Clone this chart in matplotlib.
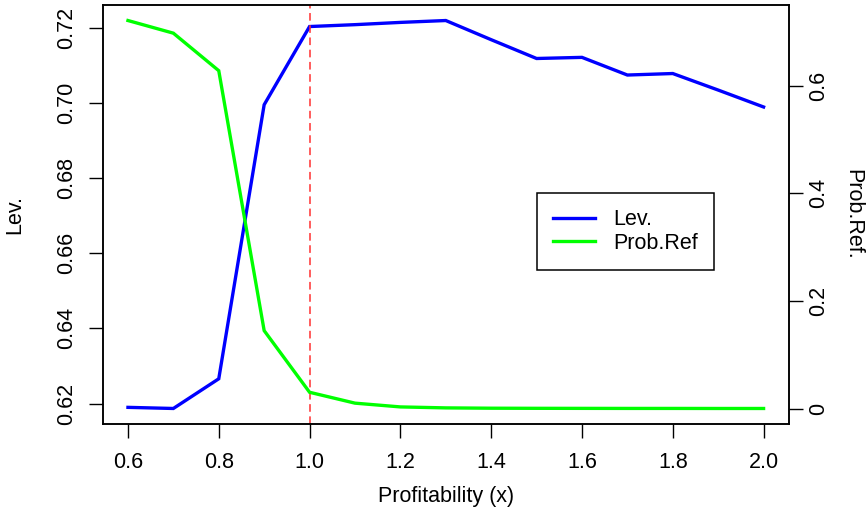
import matplotlib.pyplot as plt
import numpy as np

plt.rcParams['font.family'] = ['Liberation Sans', 'DejaVu Sans']

# profitability grid and the two fitted series
profit = [0.6, 0.7, 0.8, 0.9, 1.0, 1.1, 1.2, 1.3, 1.4, 1.5, 1.6, 1.7, 1.8, 1.9, 2.0]
lev = [0.6190, 0.6187, 0.6266, 0.6995, 0.7203, 0.7208, 0.7214, 0.7219,
       0.7168, 0.7118, 0.7121, 0.7074, 0.7078, 0.7034, 0.6989]
prob_ref = [0.7207, 0.6972, 0.6275, 0.1447, 0.0302, 0.0100, 0.0030, 0.0012,
            0.0006, 0.0004, 0.0003, 0.0002, 0.0002, 0.0001, 0.0001]

x_ticks = [0.6, 0.8, 1.0, 1.2, 1.4, 1.6, 1.8, 2.0]
lev_ticks = [0.62, 0.64, 0.66, 0.68, 0.70, 0.72]
prob_ticks = [0, 0.2, 0.4, 0.6]
prob_ticklabels = ['0', '0.2', '0.4', '0.6']
cutoff = 1.0


def padded(vals, frac=0.04):
    lo, hi = min(vals), max(vals)
    d = hi - lo
    return lo - frac * d, hi + frac * d


fs = 15.5
fig = plt.figure(figsize=(8.66, 5.16), dpi=100)
ax = fig.add_axes([0.1184, 0.1783, 0.7927, 0.8120])
ax2 = ax.twinx()

ax.plot(profit, lev, color='#0000FF', lw=2.4, solid_joinstyle='miter')
ax2.plot(profit, prob_ref, color='#00FF00', lw=2.4, solid_joinstyle='miter')
ax.axvline(cutoff, color='#FF3030', lw=1.1, linestyle=(0, (5, 3)))

ax.set_xlim(padded(profit))
ax.set_ylim(padded(lev))
ax2.set_ylim(padded(prob_ref))

ax.set_xticks(x_ticks)
ax.set_xticklabels(['%.1f' % v for v in x_ticks])
ax.set_yticks(lev_ticks)
ax.set_yticklabels(['%.2f' % v for v in lev_ticks], rotation=90, va='center')
ax2.set_yticks(prob_ticks)
ax2.set_yticklabels(prob_ticklabels, rotation=90, va='center')

for a in (ax, ax2):
    for s in a.spines.values():
        s.set_linewidth(1.1)
        s.set_color('black')
ax.tick_params(axis='x', direction='out', length=10, width=1.0, pad=10, labelsize=fs)
ax.tick_params(axis='y', direction='out', length=10, width=1.0, pad=8, labelsize=fs)
ax2.tick_params(axis='y', direction='out', length=10, width=1.0, pad=4, labelsize=fs)

ax.set_xlabel('Profitability (x)', fontsize=fs, va='center')
ax.xaxis.set_label_coords(0.5, -0.174)
ax.set_ylabel('Lev.', fontsize=fs, va='center', rotation=90)
ax.yaxis.set_label_coords(-0.1275, 0.5)
ax2.set_ylabel('Prob.Ref.', fontsize=fs, va='center', rotation=270)
ax2.yaxis.set_label_coords(1.0925, 0.5)

handles = [ax.lines[0], ax2.lines[0]]
leg = ax2.legend(handles, ['Lev.', 'Prob.Ref'], loc='upper left',
                 bbox_to_anchor=(0.633, 0.551), fontsize=fs, frameon=True,
                 fancybox=False, framealpha=1, edgecolor='black',
                 borderpad=0.74, handlelength=1.94, handletextpad=0.86,
                 labelspacing=0.12, borderaxespad=0)
leg.get_frame().set_linewidth(1.1)

fig.savefig('out.png', dpi=100)
